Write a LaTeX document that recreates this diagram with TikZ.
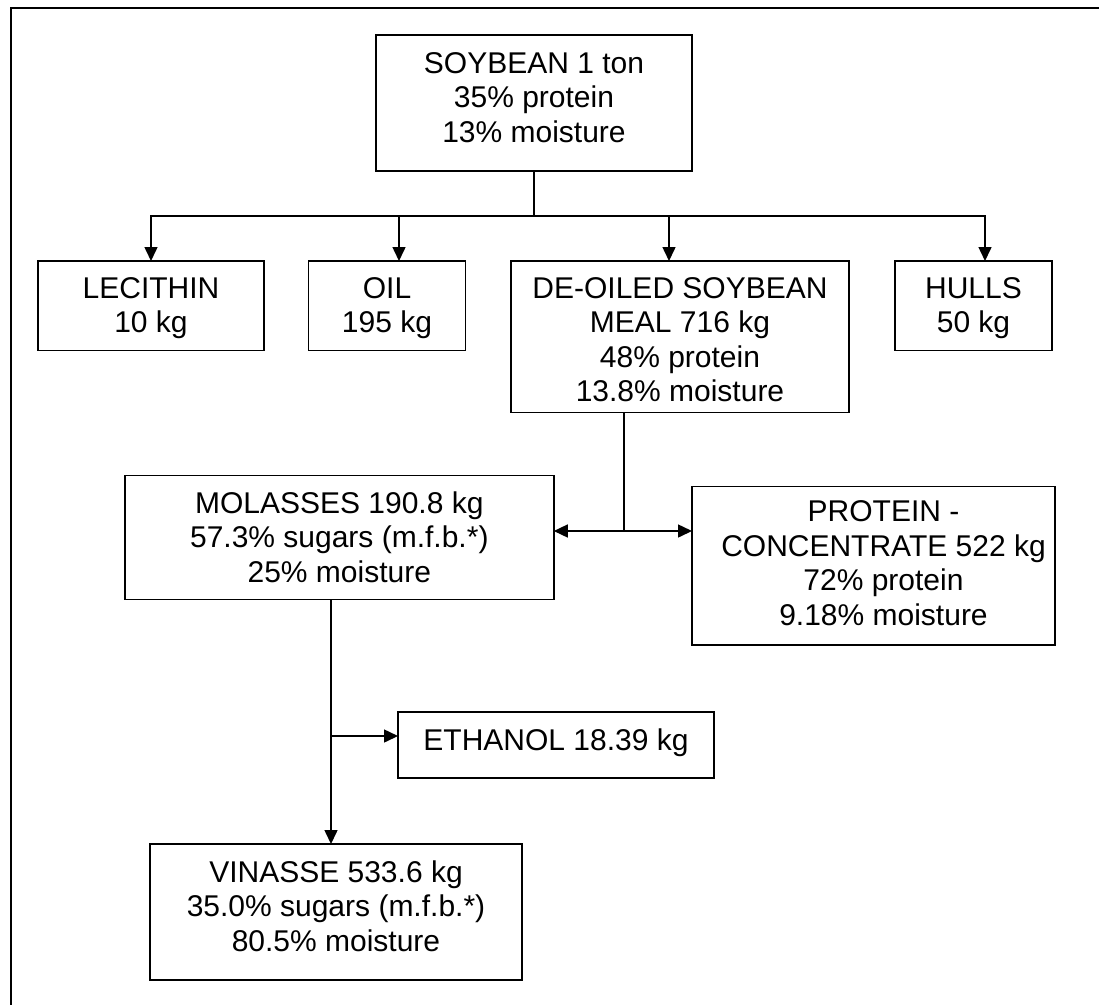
\documentclass[tikz,border=0pt]{standalone}
\usepackage{fontspec}
\setmainfont{Liberation Sans}
\usetikzlibrary{arrows.meta}
\newcommand\bxtext[3]{\begin{tabular}{@{}c@{}}\rule{0pt}{#1pt}#3\rule[-#2pt]{0pt}{#2pt}\end{tabular}}
\begin{document}
\begin{tikzpicture}[x=1pt,y=-1pt,
  flowbox/.style={draw, line width=1.5pt, inner sep=0pt, outer sep=0pt, anchor=north,
    font=\fontsize{30}{34.5}\selectfont},
  arr/.style={line width=1.5pt, -{Triangle[length=14pt,width=13pt]}},
  conn/.style={line width=1.5pt}]
\useasboundingbox (0,0) rectangle (1099,1004);
\clip (0,0) rectangle (1099,1004);
\draw[line width=1.8pt] (11,1010) -- (11,8) -- (1110,8);

\node[flowbox, minimum width=316pt] (soy) at (534,35)
  {\bxtext{38}{29}{SOYBEAN 1 ton\\35\% protein\\13\% moisture}};
\node[flowbox, minimum width=226pt] (lec) at (151,261)
  {\bxtext{37}{18}{LECITHIN\\10 kg}};
\node[flowbox, minimum width=157pt] (oil) at (387,261)
  {\bxtext{37}{18}{OIL\\195 kg}};
\node[flowbox, minimum width=338pt] (deo) at (680,261)
  {\bxtext{37}{11}{DE-OILED SOYBEAN\\MEAL 716 kg\\48\% protein\\13.8\% moisture}};
\node[flowbox, minimum width=157pt] (hul) at (973.5,261)
  {\bxtext{37}{18}{HULLS\\50 kg}};
\node[flowbox, minimum width=429pt] (mol) at (339.3,475.7)
  {\bxtext{37.6}{17}{MOLASSES 190.8 kg\\57.3\% sugars (m.f.b.*)\\25\% moisture}};
\node[flowbox, minimum width=363pt] (pro) at (873.5,486.7)
  {\hspace*{20pt}\bxtext{35}{20}{PROTEIN -\\CONCENTRATE 522 kg\\72\% protein\\9.18\% moisture}};
\node[flowbox, minimum width=316pt] (eth) at (556,712)
  {\bxtext{38}{28}{ETHANOL 18.39 kg}};
\node[flowbox, minimum width=372pt] (vin) at (336,844)
  {\bxtext{38}{29}{VINASSE 533.6 kg\\35.0\% sugars (m.f.b.*)\\80.5\% moisture}};

\coordinate (j1) at (534,216);
\coordinate (j2) at (624,531);
\coordinate (j3) at (331,736);

\draw[conn] (soy.south) -- (j1);
\draw[arr] (j1) -| (lec.north);
\draw[arr] (j1) -| ([xshift=12pt]oil.north);
\draw[arr] (j1) -| ([xshift=-11pt]deo.north);
\draw[arr] (j1) -| ([xshift=11.5pt]hul.north);

\draw[conn] (deo.south -| j2) -- (j2);
\draw[arr] (j2) -- (j2 -| mol.east);
\draw[arr] (j2) -- (j2 -| pro.west);

\draw[arr] (mol.south -| j3) -- (vin.north -| j3);
\draw[arr] (j3) -- (j3 -| eth.west);
\end{tikzpicture}
\end{document}
